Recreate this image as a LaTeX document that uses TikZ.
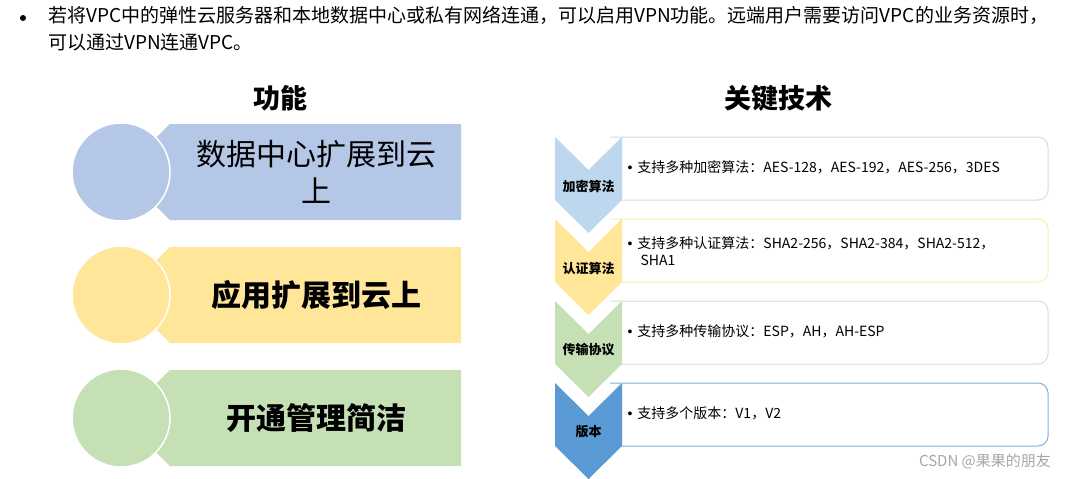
\documentclass[tikz,border=0pt]{standalone}
\usepackage{fontspec}
\setmainfont{Noto Sans CJK SC}
\newfontfamily\bulletfont{Liberation Sans}
\definecolor{fblue}{HTML}{B4C7E7}
\definecolor{fyellow}{HTML}{FFE699}
\definecolor{fgreen}{HTML}{C5E0B4}
\definecolor{kblue}{HTML}{BDD7EE}
\definecolor{kdark}{HTML}{5B9BD5}
\newcommand{\bul}{{\bulletfont\textbullet}\hspace{5pt}}
\tikzset{
  title/.style={font=\fontsize{27}{30}\selectfont\bfseries},
  func/.style={font=\fontsize{30}{37}\selectfont, align=center, text width=270pt},
  keylabel/.style={font=\fontsize{13}{15}\selectfont\bfseries},
  keytext/.style={font=\fontsize{14}{17}\selectfont, anchor=north west, align=left, text width=420pt},
}
\begin{document}
\begin{tikzpicture}[x=1pt, y=-1pt]
\useasboundingbox (0,0) rectangle (1087,479);

% top text
\node[font=\fontsize{19}{27}\selectfont, anchor=north west, align=left, inner sep=0pt] (intro) at (48,6)
  {若将VPC中的弹性云服务器和本地数据中心或私有网络连通，可以启用VPN功能。远端用户需要访问VPC的业务资源时，\\可以通过VPN连通VPC。};
\fill (23,18) circle (3);

% function column
\node[title] (ftitle) at (280,98) {功能};
\foreach \y/\c/\t [count=\i] in {124/fblue/{数据中心扩展到云\\上}, 247/fyellow/\textbf{应用扩展到云上}, 370/fgreen/\textbf{开通管理简洁}} {
  \fill[\c] (170,\y) -- (461,\y) -- (461,\y+96) -- (170,\y+96) -- (121,\y+48) -- cycle;
  \filldraw[fill=\c, draw=white, line width=1.5pt] (121,\y+48) circle (49);
  \node[func] (f\i) at (316,\y+48) {\t};
}

% key technique column
\node[title] (ktitle) at (778,98) {关键技术};
\foreach \y/\c/\l [count=\i] in {137/kblue/加密算法, 219/fyellow/认证算法, 301/fgreen/传输协议, 383/kdark/版本} {
  \draw[\c!80!white, line width=1pt, rounded corners=10pt, fill=white]
    (610,\y) -- (1048,\y) -- (1048,\y+63) -- (610,\y+63);
  \fill[\c] (555,\y) -- (588.5,\y+33) -- (622,\y) -- (622,\y+63) -- (588.5,\y+96) -- (555,\y+63) -- cycle;
  \node[keylabel] (k\i) at (588.5,\y+49) {\l};
}
\node[keytext] (d1) at (624,157) {\bul 支持多种加密算法：AES-128，AES-192，AES-256，3DES};
\node[keytext] (d2) at (624,233) {\bul 支持多种认证算法：SHA2-256，SHA2-384，SHA2-512，\\\hspace*{13pt}SHA1};
\node[keytext] (d3) at (624,321) {\bul 支持多种传输协议：ESP，AH，AH-ESP};
\node[keytext] (d4) at (624,403) {\bul 支持多个版本：V1，V2};

\node[font=\fontsize{15}{18}\selectfont, text=black!35] (mark) at (985,461) {CSDN @果果的朋友};
\end{tikzpicture}
\end{document}
